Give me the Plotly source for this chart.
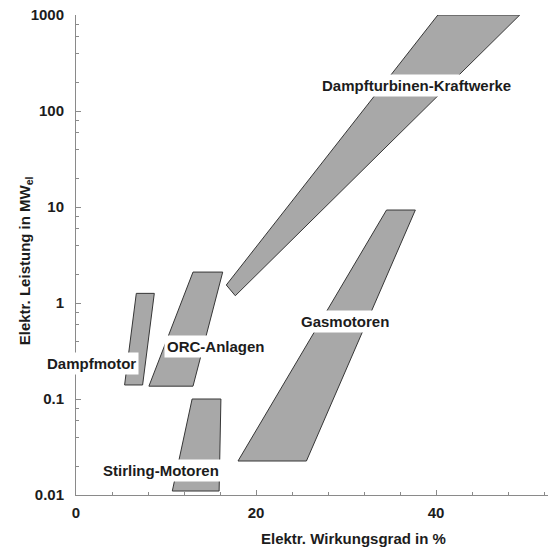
import math
import plotly.graph_objects as go

# Operating regions: electrical efficiency (%) vs. electrical power (MW_el)
dampfmotor_eta = [5.4, 7.4, 8.7, 6.7]
dampfmotor_p = [0.14, 0.14, 1.26, 1.26]

orc_eta = [8.1, 13.0, 16.3, 13.0]
orc_p = [0.136, 0.136, 2.1, 2.1]

stirling_eta = [10.7, 15.9, 16.1, 12.9]
stirling_p = [0.011, 0.011, 0.1, 0.1]

gas_eta = [18.0, 25.6, 37.7, 34.5]
gas_p = [0.0226, 0.0226, 9.3, 9.3]

turbine_eta = [16.7, 17.7, 49.3, 40.2]
turbine_p = [1.54, 1.19, 1000, 1000]

# Region labels (text, efficiency, power)
label_text = ["Dampfturbinen-Kraftwerke", "Gasmotoren", "ORC-Anlagen", "Dampfmotor", "Stirling-Motoren"]
label_eta = [37.8, 29.9, 15.6, 1.75, 9.4]
label_p = [186, 0.64, 0.35, 0.235, 0.0178]

y_tickvals = [0.01, 0.1, 1, 10, 100, 1000]
y_ticktext = ["0.01", "0.1", "1", "10", "100", "1000"]
x_tickvals = [0, 20, 40]

FONT = "Liberation Sans, Arial, sans-serif"
TXT = "#1c1c1c"
AX = "#8a8a8a"
FILL = "#a8a8a8"
EDGE = "#363636"

fig = go.Figure()
for xs, ys in [(dampfmotor_eta, dampfmotor_p), (orc_eta, orc_p), (stirling_eta, stirling_p),
               (gas_eta, gas_p), (turbine_eta, turbine_p)]:
    fig.add_trace(go.Scatter(
        x=xs + xs[:1], y=ys + ys[:1], mode="lines", fill="toself",
        fillcolor=FILL, line=dict(color=EDGE, width=1), hoverinfo="skip",
        showlegend=False))

# annotations on a log axis take log10 positions
for t, xv, yv in zip(label_text, label_eta, label_p):
    fig.add_annotation(x=xv, y=math.log10(yv), text=t, showarrow=False, bgcolor="white",
                       borderpad=2, font=dict(family=FONT, size=15, color=TXT, weight="bold"))

# minor ticks on the log axis
minor_y = [m * d for d in [0.01, 0.1, 1, 10, 100] for m in (2, 4, 6, 8)]

fig.update_xaxes(range=[0, 52.44], tickvals=x_tickvals, ticks="inside", ticklen=5,
                 tickcolor=AX, showline=True, linecolor=AX, linewidth=1,
                 showgrid=False, zeroline=False, ticklabelstandoff=4,
                 tickfont=dict(family=FONT, size=15, color=TXT, weight="bold"),
                 minor=dict(dtick=4, ticks="inside", ticklen=3, tickcolor=AX))
fig.update_yaxes(type="log", range=[-2, 3], tickvals=y_tickvals, ticktext=y_ticktext,
                 ticks="inside", ticklen=5, tickcolor=AX, showline=True, linecolor=AX,
                 linewidth=1, showgrid=False, zeroline=False, ticklabelstandoff=8,
                 tickfont=dict(family=FONT, size=15, color=TXT, weight="bold"),
                 minor=dict(tickvals=minor_y, ticks="inside", ticklen=3, tickcolor=AX))

# axis titles
fig.add_annotation(x=30.8, xref="x", y=0, yref="paper", yanchor="middle", yshift=-43,
                   text="Elektr. Wirkungsgrad in %", showarrow=False,
                   font=dict(family=FONT, size=15, color=TXT, weight="bold"))
fig.add_annotation(x=0, xref="paper", xanchor="center", xshift=-51, y=0.487, yref="paper",
                   text="Elektr. Leistung in MW<sub>el</sub>", textangle=-90, showarrow=False,
                   font=dict(family=FONT, size=15, color=TXT, weight="bold"))

fig.update_layout(width=548, height=549, margin=dict(l=76, r=0, t=15, b=54),
                  paper_bgcolor="white", plot_bgcolor="white", showlegend=False)

fig.write_html("out.html")
